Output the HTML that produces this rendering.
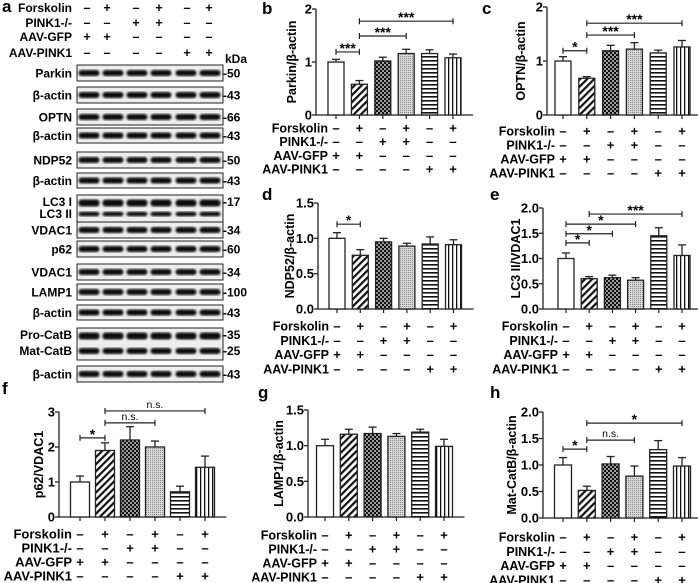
<!DOCTYPE html>
<html><head><meta charset="utf-8"><style>
html,body{margin:0;padding:0;background:#fff;}
svg{display:block;font-family:"Liberation Sans",Arial,sans-serif;font-weight:bold;}
</style></head><body>
<svg id="fig" width="698" height="583" viewBox="0 0 698 583" xmlns="http://www.w3.org/2000/svg">
<defs>
<pattern id="p1" patternUnits="userSpaceOnUse" width="5" height="5" patternTransform="rotate(45)"><rect width="5" height="5" fill="#fff"/><rect width="2.2" height="5" fill="#111"/></pattern>
<pattern id="p2" patternUnits="userSpaceOnUse" width="4" height="4"><rect width="4" height="4" fill="#111"/><circle cx="1" cy="1" r="0.9" fill="#fff"/><circle cx="3" cy="3" r="0.9" fill="#fff"/></pattern>
<pattern id="p3" patternUnits="userSpaceOnUse" width="2" height="2"><rect width="2" height="2" fill="#d8d8d8"/><rect width="1" height="1" fill="#888"/></pattern>
<pattern id="p4" patternUnits="userSpaceOnUse" width="4" height="4"><rect width="4" height="4" fill="#fff"/><rect width="4" height="1.6" fill="#111"/></pattern>
<pattern id="p5" patternUnits="userSpaceOnUse" width="4" height="4"><rect width="4" height="4" fill="#fff"/><rect width="1.3" height="4" fill="#111"/></pattern>
<filter id="blur"><feGaussianBlur stdDeviation="1.1"/></filter>
</defs>
</svg>
<script>
// ---- data ----
const rowLabels = ["Forskolin","PINK1-/-","AAV-GFP","AAV-PINK1"];
const signs = [["-","+","-","+","-","+"],["-","-","+","+","-","-"],["+","+","-","-","-","-"],["-","-","-","-","+","+"]];
const valsB = [1.0,0.58,1.02,1.16,1.16,1.08];
const errB = [0.05,0.07,0.07,0.08,0.07,0.07];
const valsC = [1.0,0.68,1.19,1.22,1.15,1.26];
const errC = [0.08,0.03,0.1,0.12,0.05,0.12];
const valsD = [1.0,0.76,0.95,0.89,0.92,0.91];
const errD = [0.08,0.08,0.05,0.04,0.1,0.07];
const valsE = [1.0,0.6,0.62,0.57,1.45,1.06];
const errE = [0.11,0.04,0.05,0.05,0.16,0.21];
const valsF = [1.0,1.9,2.2,2.0,0.72,1.42];
const errF = [0.17,0.22,0.38,0.17,0.16,0.32];
const valsG = [1.0,1.16,1.17,1.13,1.19,0.99];
const errG = [0.09,0.07,0.09,0.04,0.04,0.1];
const valsH = [1.0,0.52,1.02,0.79,1.29,0.98];
const errH = [0.14,0.08,0.14,0.19,0.17,0.16];
const ticks2 = ["0","1","2"];
const ticks15 = ["0.0","0.5","1.0","1.5"];
const ticks20 = ["0.0","0.5","1.0","1.5","2.0"];
const ticks3 = ["0","1","2","3"];
const sigB = [[0,1,1.19,"***"],[1,3,1.49,"***"],[1,5,1.77,"***"]];
const sigC = [[0,1,1.19,"*"],[1,3,1.48,"***"],[1,5,1.7,"***"]];
const sigD = [[0,1,1.2,"*"]];
const sigE = [[0,1,1.31,"*"],[0,2,1.49,"*"],[0,3,1.68,"*"],[1,5,1.88,"***"]];
const sigF = [[0,1,2.26,"*"],[1,3,2.69,"n.s."],[1,5,3.03,"n.s."]];
const sigG = [];
const sigH = [[0,1,1.3,"*"],[1,3,1.47,"n.s."],[1,5,1.79,"*"]];

const NS="http://www.w3.org/2000/svg";
const svg=document.getElementById('fig');
function el(tag,attrs,parent,text){const e=document.createElementNS(NS,tag);for(const k in attrs)e.setAttribute(k,attrs[k]);if(text!==undefined)e.textContent=text;(parent||svg).appendChild(e);return e;}
const fills=["#fff","url(#p1)","url(#p2)","url(#p3)","url(#p4)","url(#p5)"];

function panel(o){
  const g=el('g',{});
  
  
  const ymax=+o.ticks[o.ticks.length-1];
  const y=v=>o.y0-(v/ymax)*(o.y0-o.yT);
  const x=i=>o.x1+i*o.dx;
  const fs=o.fs||12.5;
  const lt=el('text',{x:o.lx,y:o.ly,'font-size':17},g,o.letter);
  
  
  const ax=el('path',{d:`M${o.ax},${o.yT}V${o.y0}H${x(5)+o.bw/2+12}`,stroke:'#222','stroke-width':1.3,fill:'none'},g);
  
  
  o.ticks.forEach((t,i)=>{const yy=y(+t);
    el('line',{x1:o.ax-4,x2:o.ax,y1:yy,y2:yy,stroke:'#222','stroke-width':1.3},g);
    const tl=el('text',{x:o.ax-4,y:yy+4.5,'font-size':13,'text-anchor':'end'},g,t);
    
    
  });
  const yt=el('text',{transform:`translate(${o.tx},${(o.y0+o.yT)/2}) rotate(-90)`,'font-size':12.5,'text-anchor':'middle'},g,o.title);
  
  
  o.vals.forEach((v,i)=>{
    const cx=x(i), top=y(v), et=y(v+o.err[i]);
    el('line',{x1:cx,x2:cx,y1:o.y0,y2:o.y0+4,stroke:'#222','stroke-width':1.2},g);
    el('line',{x1:cx,x2:cx,y1:top,y2:et,stroke:'#222','stroke-width':1.3},g);
    el('line',{x1:cx-4,x2:cx+4,y1:et,y2:et,stroke:'#222','stroke-width':1.3},g);
    const b=el('rect',{x:cx-o.bw/2,y:top,width:o.bw,height:o.y0-top,fill:fills[i],stroke:'#222','stroke-width':1.3},g);
    
    
  });
  o.sig.forEach(s=>{
    const yy=y(s[2]),a=x(s[0]),c=x(s[1]);
    const br=el('path',{d:`M${a},${yy+3}V${yy-3}M${a},${yy}H${c}M${c},${yy+3}V${yy-3}`,stroke:'#222','stroke-width':1.2,fill:'none'},g);
    
    
    const st=el('text',{x:(a+c)/2,y:s[3]==="n.s."?yy-3:yy+1,'font-size':s[3]==="n.s."?10.5:14,'font-weight':s[3]==="n.s."?'normal':'bold','text-anchor':'middle'},g,s[3]);
    
    
  });
  rowLabels.forEach((r,ri)=>{
    const ry=o.r0+ri*o.rd;
    const rl=el('text',{x:x(0)-8,y:ry+4.5,'font-size':fs,'text-anchor':'end'},g,r);
    
    
    signs[ri].forEach((s,i)=>{el('text',{x:x(i),y:ry+4.5,'font-size':13,'text-anchor':'middle'},g,s==="-"?"–":"+");});
  });
}
panel({letter:'b',lx:262,ly:14,ax:316,y0:115,yT:9,x1:336,dx:23.4,bw:16,ticks:ticks2,vals:valsB,err:errB,sig:sigB,title:'Parkin/β-actin',tx:296,r0:128,rd:13.7});
panel({letter:'c',lx:482,ly:14,ax:547,y0:115,yT:7,x1:563,dx:23.8,bw:16,ticks:ticks2,vals:valsC,err:errC,sig:sigC,title:'OPTN/β-actin',tx:525,r0:131,rd:14});
panel({letter:'d',lx:262,ly:200,ax:318,y0:309,yT:203,x1:337,dx:23.3,bw:16,ticks:ticks15,vals:valsD,err:errD,sig:sigD,title:'NDP52/β-actin',tx:294,r0:326,rd:14.3});
panel({letter:'e',lx:490,ly:200,ax:543,y0:309,yT:208,x1:566,dx:23.2,bw:16,ticks:ticks20,vals:valsE,err:errE,sig:sigE,title:'LC3 II/VDAC1',tx:520,r0:326,rd:14.3});
panel({letter:'f',lx:2,ly:394,ax:59,y0:517,yT:412,x1:80,dx:25,bw:19,ticks:ticks3,vals:valsF,err:errF,sig:sigF,title:'p62/VDAC1',tx:43,r0:534,rd:14,fs:13});
panel({letter:'g',lx:258,ly:398,ax:308,y0:517,yT:410,x1:325,dx:23.8,bw:17,ticks:ticks15,vals:valsG,err:errG,sig:sigG,title:'LAMP1/β-actin',tx:283,r0:535,rd:14});
panel({letter:'h',lx:490,ly:398,ax:543,y0:518,yT:412,x1:563,dx:23.8,bw:17,ticks:ticks20,vals:valsH,err:errH,sig:sigH,title:'Mat-CatB/β-actin',tx:516,r0:537,rd:14.3});

// ---- western blot panel a ----
const blotNames=["Parkin","β-actin","OPTN","β-actin","NDP52","β-actin","LC3","VDAC1","p62","VDAC1","LAMP1","β-actin","CatB","β-actin"];
const blotKda=["50","43","66","43","50","43","17","34","60","34","100","43","35","43"];
const blotTop=[65,87,109,128,152,173,195,222,241,264,284,305,328,366];
const blotH=[16,16,16,15,16,15,27,16,16,16,16,15,32,16];
const ga=el('g',{});


el('text',{x:2,y:12,'font-size':17},ga,'a');
const hx=[87,107,136,159,187,209];
const hy=[8,23,37,53];
rowLabels.forEach((r,ri)=>{
  const t=el('text',{x:72,y:hy[ri]+4,'font-size':12,'text-anchor':'end'},ga,r);
  
  
  signs[ri].forEach((s,i)=>el('text',{x:hx[i],y:hy[ri]+4,'font-size':12.5,'text-anchor':'middle'},ga,s==="-"?"–":"+"));
});
el('text',{x:225,y:63,'font-size':12},ga,'kDa');
const lanes=[89,113,137,161,186,210];
blotNames.forEach((n,i)=>{
  const t=blotTop[i],h=blotH[i];
  const box=el('rect',{x:77,y:t,width:146,height:h,fill:'#eee',stroke:'#222','stroke-width':1},ga);
  
  
  const bands=(n==="LC3")?[[t+8,7],[t+19,4.5]]:(n==="CatB")?[[t+8,7],[t+23,6]]:[[t+h/2,6]];
  bands.forEach(bd=>lanes.forEach(lx=>el('rect',{x:lx-10.5,y:bd[0]-bd[1]/2,width:21,height:bd[1],rx:3,fill:'#0a0a0a',filter:'url(#blur)'},ga)));
  if(n==="LC3"){
    el('text',{x:72,y:t+11,'font-size':12,'text-anchor':'end'},ga,'LC3 I');
    el('text',{x:72,y:t+23,'font-size':12,'text-anchor':'end'},ga,'LC3 II');
  } else if(n==="CatB"){
    el('text',{x:72,y:t+11,'font-size':12,'text-anchor':'end'},ga,'Pro-CatB');
    el('text',{x:72,y:t+27,'font-size':12,'text-anchor':'end'},ga,'Mat-CatB');
    el('text',{x:223,y:t+11,'font-size':12},ga,'-35');
    el('text',{x:223,y:t+27,'font-size':12},ga,'-25');
  } else {
    const l=el('text',{x:72,y:t+h/2+4.5,'font-size':12,'text-anchor':'end'},ga,n);
    
    
  }
  if(n!=="CatB"){
    el('text',{x:223,y:(n==="LC3"?t+11:t+h/2+4.5),'font-size':12},ga,'-'+blotKda[i]);
  }
});
</script>
</body></html>
